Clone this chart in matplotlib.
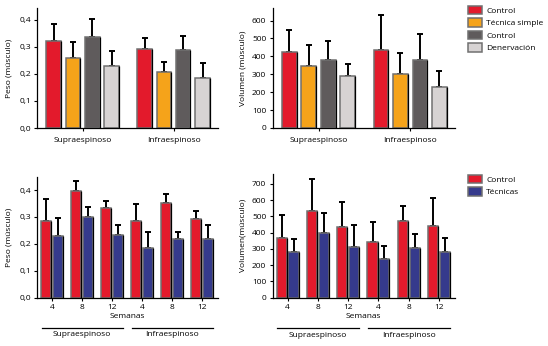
import matplotlib
matplotlib.use("Agg")
import matplotlib.pyplot as plt
import numpy as np
from matplotlib.patches import Patch
from matplotlib.ticker import FuncFormatter

plt.rcParams["font.family"] = ["Open Sans", "DejaVu Sans"]
plt.rcParams["font.size"] = 6

# --- top row: four groups per muscle ---
musculos = ["Supraespinoso", "Infraespinoso"]
grupos_top = ["Control", "Técnica simple", "Control", "Denervación"]
colores_top = ["#e31a2c", "#f5a31a", "#5f5b5c", "#d7d3d3"]

peso_media = [[0.321, 0.260, 0.338, 0.228],
              [0.294, 0.206, 0.288, 0.185]]
peso_sd = [[0.062, 0.057, 0.066, 0.056],
           [0.039, 0.040, 0.054, 0.057]]

vol_media = [[423, 345, 382, 292],
             [434, 302, 382, 227]]
vol_sd = [[124, 119, 104, 66],
          [196, 117, 145, 91]]

# --- bottom row: weeks 4/8/12 for each muscle ---
semanas = ["4", "8", "12", "4", "8", "12"]
grupos_bot = ["Control", "Técnicas"]
colores_bot = ["#e31a2c", "#353a8c"]

peso_ctrl = [0.284, 0.396, 0.335, 0.284, 0.353, 0.293]
peso_ctrl_sd = [0.082, 0.038, 0.024, 0.065, 0.031, 0.028]
peso_tec = [0.229, 0.300, 0.234, 0.183, 0.218, 0.218]
peso_tec_sd = [0.068, 0.038, 0.038, 0.060, 0.025, 0.051]

vol_ctrl = [364, 533, 432, 343, 469, 440]
vol_ctrl_sd = [144, 195, 154, 120, 95, 173]
vol_tec = [281, 395, 312, 235, 306, 281]
vol_tec_sd = [79, 125, 136, 84, 83, 83]

EDGE = "#707070"


def barras(ax, x, h, sd, color, w):
    ax.bar(x, h, width=w, color=color, edgecolor=EDGE, linewidth=1.1, zorder=2)
    # darker right edge on every bar
    xr = np.asarray(x) + w / 2
    ax.vlines(xr, 0, h, color="black", linewidth=0.9, zorder=3)
    ax.errorbar(x, h, yerr=[np.zeros(len(h)), sd], fmt="none", ecolor="black",
                elinewidth=1.4, capsize=2.4, capthick=1.4, zorder=1)


def estilo(ax):
    for s in ["top", "right"]:
        ax.spines[s].set_visible(False)
    ax.spines["left"].set_linewidth(0.9)
    ax.spines["bottom"].set_linewidth(0.9)
    ax.tick_params(length=2.5, width=0.8, pad=2, labelsize=6)


def leyenda(ax, colores, nombres, x, y):
    h = [Patch(facecolor=c, edgecolor=EDGE, linewidth=1.1) for c in colores]
    ax.legend(h, nombres, loc="upper left", bbox_to_anchor=(x, y),
              frameon=False, borderaxespad=0, borderpad=0,
              handlelength=1.7, handleheight=1.2, handletextpad=0.5,
              labelspacing=0.42, fontsize=6)


coma = FuncFormatter(lambda v, p: f"{v:.1f}".replace(".", ","))

fig = plt.figure(figsize=(5.48, 3.46), dpi=100)
W, H = 548, 346


def ejes(l, r, t, b):
    return fig.add_axes([l / W, 1 - b / H, (r - l) / W, (b - t) / H])


ax1 = ejes(37, 218, 8, 128)
ax2 = ejes(272.5, 455, 8, 128)
ax3 = ejes(37, 218, 177, 297.5)
ax4 = ejes(272.5, 455, 174, 297.5)

# top row
centros = np.array([0.0, 4.7])
offs = np.arange(4) - 1.5
for ax, media, sd in [(ax1, peso_media, peso_sd), (ax2, vol_media, vol_sd)]:
    media = np.array(media)
    sd = np.array(sd)
    for j in range(4):
        barras(ax, centros + offs[j], media[:, j], sd[:, j], colores_top[j], 0.75)
    ax.set_xticks(centros)
    ax.set_xticklabels(musculos)
    ax.set_xlim(-2.36, 7.0)
    estilo(ax)
    ax.tick_params(axis="x", pad=4)

ax1.set_ylim(0, 0.444)
ax1.set_yticks([0, 0.1, 0.2, 0.3, 0.4])
ax1.yaxis.set_major_formatter(coma)
ax1.set_ylabel("Peso (músculo)", labelpad=5)

ax2.set_ylim(0, 670)
ax2.set_yticks(range(0, 601, 100))
ax2.set_ylabel("Volumen (músculo)", labelpad=4)

leyenda(ax2, colores_top, grupos_top, 1.071, 1.02)

# bottom row
xs = np.arange(len(semanas))
for ax, c, csd, t, tsd in [(ax3, peso_ctrl, peso_ctrl_sd, peso_tec, peso_tec_sd),
                           (ax4, vol_ctrl, vol_ctrl_sd, vol_tec, vol_tec_sd)]:
    barras(ax, xs - 0.195, np.array(c), np.array(csd), colores_bot[0], 0.333)
    barras(ax, xs + 0.195, np.array(t), np.array(tsd), colores_bot[1], 0.333)
    ax.set_xticks(xs)
    ax.set_xticklabels(semanas)
    ax.set_xlim(-0.5, 5.53)
    estilo(ax)
    ax.set_xlabel("Semanas", labelpad=1.5)
    trans = ax.get_xaxis_transform()
    for k, nombre in enumerate(musculos):
        x0, x1 = xs[3 * k] - 0.35, xs[3 * k + 2] + 0.35
        ax.plot([x0, x1], [-0.25, -0.25], color="black", linewidth=0.9,
                transform=trans, clip_on=False)
        ax.text((x0 + x1) / 2, -0.31, nombre, transform=trans, ha="center",
                va="center", fontsize=6)

ax3.set_ylim(0, 0.449)
ax3.set_yticks([0, 0.1, 0.2, 0.3, 0.4])
ax3.yaxis.set_major_formatter(coma)
ax3.set_ylabel("Peso (músculo)", labelpad=5)

ax4.set_ylim(0, 761)
ax4.set_yticks(range(0, 701, 100))
ax4.set_ylabel("Volumen(músculo)", labelpad=4)

leyenda(ax4, colores_bot, grupos_bot, 1.071, 0.995)

fig.savefig("out.png", dpi=100)
